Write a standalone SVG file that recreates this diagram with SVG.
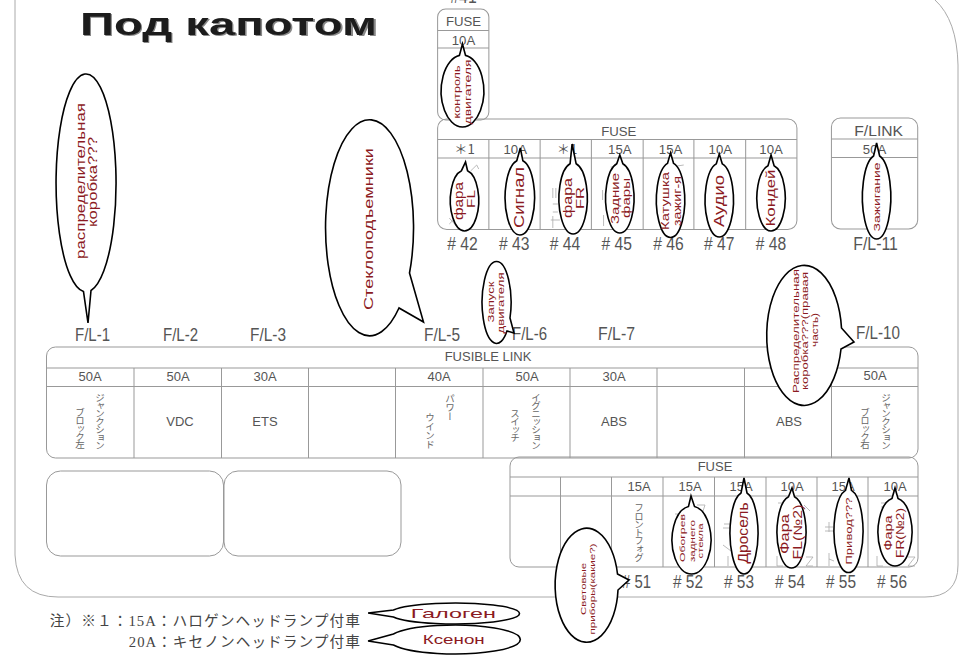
<svg xmlns="http://www.w3.org/2000/svg" width="960" height="667" viewBox="0 0 960 667">
<defs><filter id="soft" x="-5%" y="-20%" width="110%" height="140%"><feGaussianBlur stdDeviation="0.7"/></filter></defs>
<style>
text{font-family:"Liberation Sans",Arial,"Noto Sans CJK JP",sans-serif;fill:#555}
.box{fill:none;stroke:#999;stroke-width:1}
.ln{stroke:#999;stroke-width:1;fill:none}
.frag{stroke:#aaa;stroke-width:.8;fill:none}
.t{font-size:13px;text-anchor:middle}
.big{font-size:19px;fill:#555}
.j{font-family:"Noto Sans CJK JP",sans-serif;font-size:9.5px;letter-spacing:-1.6px;writing-mode:vertical-rl;fill:#666}
.n{font-family:"Liberation Serif","Noto Sans CJK JP",serif;font-size:14.5px;fill:#444}
.b{fill:#fff;stroke:#000;stroke-width:1.6;stroke-linejoin:miter}
.r{fill:#8b1a22;text-anchor:middle}
.top{transform:translate(430px,0) scale(1.015,1) translate(-430px,0)}
.low{transform:scale(1.014,1)}
</style>
<rect width="960" height="667" fill="#fff"/>
<path id="frame" d="M15 0V555Q17 597 58 597H925Q958 597 958 565V65Q957 20 935 0" fill="none" stroke="#aaa" stroke-width="1"/>
<g id="title" filter="url(#soft)">
<text x="81" y="35.5" font-size="30.5" font-weight="bold" textLength="298" lengthAdjust="spacingAndGlyphs" style="fill:#888">Под капотом</text>
<text x="80" y="35" font-size="30.5" font-weight="bold" textLength="297" lengthAdjust="spacingAndGlyphs" style="fill:#1c1c1c">Под капотом</text>
</g>

<g id="fuse-41" class="top">
<rect class="box" x="437.5" y="9" width="50.5" height="111" rx="8"/>
<path class="ln" d="M437.5 30.5H488M437.5 48H488"/>
<text class="t" x="463" y="26">FUSE</text>
<text class="t" x="463" y="45">10A</text>
<text class="big" x="450" y="3" textLength="26" lengthAdjust="spacingAndGlyphs">#41</text>
</g>
<g id="fuse-row-top" class="top">
<rect class="box" x="437.5" y="119" width="354" height="110.5" rx="9"/>
<path class="ln" d="M437.5 139.5H791.5M437.5 158H791.5M488 139.5V229.5M538.5 139.5V229.5M589 139.5V229.5M640 139.5V229.5M690 139.5V229.5M741 139.5V229.5"/>
<text class="t" x="616" y="136">FUSE</text>
<text class="t" x="464" y="154" style="font-family:'Noto Sans CJK JP','Liberation Sans',sans-serif">＊1</text>
<text class="t" x="514" y="154">10A</text>
<text class="t" x="565" y="154" style="font-family:'Noto Sans CJK JP','Liberation Sans',sans-serif">＊1</text>
<text class="t" x="617" y="154">15A</text>
<text class="t" x="667" y="154">15A</text>
<text class="t" x="716" y="154">10A</text>
<text class="t" x="766" y="154">10A</text>
<path class="frag" d="M470 171L476 165L478 169M449 224L455 218M449 218L456 226M551 188V198M554 188V198M551 204H556M551 212H556M549 220H558M551 216V228M600 190V200M601 215V226M608 167H616M660 168L680 165"/>
<text class="big" x="447" y="250.5" textLength="30" lengthAdjust="spacingAndGlyphs"># 42</text>
<text class="big" x="498" y="250.5" textLength="30" lengthAdjust="spacingAndGlyphs"># 43</text>
<text class="big" x="548" y="250.5" textLength="30" lengthAdjust="spacingAndGlyphs"># 44</text>
<text class="big" x="599" y="250.5" textLength="30" lengthAdjust="spacingAndGlyphs"># 45</text>
<text class="big" x="650" y="250.5" textLength="30" lengthAdjust="spacingAndGlyphs"># 46</text>
<text class="big" x="700" y="250.5" textLength="30" lengthAdjust="spacingAndGlyphs"># 47</text>
<text class="big" x="751" y="250.5" textLength="30" lengthAdjust="spacingAndGlyphs"># 48</text>
</g>
<g id="flink-11" class="top">
<rect class="box" x="825.5" y="118" width="85" height="111" rx="9"/>
<path class="ln" d="M825.5 139H910.5M825.5 157.5H910.5"/>
<text x="848" y="136" font-size="14" textLength="48" lengthAdjust="spacingAndGlyphs">F/LINK</text>
<text class="t" x="868" y="154">50A</text>
<text class="big" x="847" y="250" textLength="44" lengthAdjust="spacingAndGlyphs">F/L-11</text>
</g>
<g id="fusible-link">
<rect class="box" x="46.5" y="347" width="871.5" height="111" rx="9"/>
<path class="ln" d="M46.5 368H918M46.5 386.5H918M134 368V458M221.5 368V458M308.5 368V458M395.5 368V458M483 368V458M570 368V458M657 368V458M744.5 368V458M831.5 368V458"/>
<text class="t" x="488" y="361">FUSIBLE LINK</text>
<text class="t" x="90" y="381">50A</text>
<text class="t" x="178" y="381">50A</text>
<text class="t" x="265" y="381">30A</text>
<text class="t" x="439" y="381">40A</text>
<text class="t" x="527" y="381">50A</text>
<text class="t" x="614" y="381">30A</text>
<text class="t" x="875" y="380">50A</text>
<text class="t" x="180" y="426">VDC</text>
<text class="t" x="265" y="426">ETS</text>
<text class="t" x="614" y="426">ABS</text>
<text class="t" x="789" y="426">ABS</text>
<text class="j" x="100" y="393">ジャンクション</text>
<text class="j" x="80" y="408">ブロック左</text>
<text class="j" x="450" y="394" style="letter-spacing:-.5px">パワー</text>
<text class="j" x="430" y="413" style="letter-spacing:-.5px">ウインド</text>
<text class="j" x="536" y="393">イグニッション</text>
<text class="j" x="515" y="409">スイッチ</text>
<text class="j" x="886" y="393">ジャンクション</text>
<text class="j" x="865" y="408">ブロック右</text>
<text class="big" x="75" y="341" textLength="35" lengthAdjust="spacingAndGlyphs">F/L-1</text>
<text class="big" x="163" y="341" textLength="35" lengthAdjust="spacingAndGlyphs">F/L-2</text>
<text class="big" x="250" y="341" textLength="36" lengthAdjust="spacingAndGlyphs">F/L-3</text>
<text class="big" x="424" y="341" textLength="36" lengthAdjust="spacingAndGlyphs">F/L-5</text>
<text class="big" x="512" y="340" textLength="35" lengthAdjust="spacingAndGlyphs">F/L-6</text>
<text class="big" x="598" y="340" textLength="37" lengthAdjust="spacingAndGlyphs">F/L-7</text>
<text class="big" x="856" y="339" textLength="44" lengthAdjust="spacingAndGlyphs">F/L-10</text>
</g>
<g id="blank-left"><rect class="box" x="46.5" y="471" width="177" height="85" rx="14"/></g>
<g id="blank-right"><rect class="box" x="224" y="471" width="177" height="85" rx="14"/></g>
<g id="fuse-row-bottom">
<rect class="box" x="510" y="457" width="408" height="110" rx="9"/>
<path class="ln" d="M510 477H918M510 496H918M560.5 477V567M611.5 477V567M663 477V567M714.5 477V567M766 477V567M817 477V567M868 477V567"/>
<text class="t" x="715" y="471">FUSE</text>
<text class="t" x="639" y="491">15A</text>
<text class="t" x="690" y="491">15A</text>
<text class="t" x="741" y="491">15A</text>
<text class="t" x="792" y="491">10A</text>
<text class="t" x="843" y="491">15A</text>
<text class="t" x="895" y="491">10A</text>
<path class="frag" d="M697 505H705L703 511M675 514H682M724 524H730M723 528H731M723 545L731 551M728 556V566M778 503H785M780 507H786M804 505L810 511M777 556V566H783M806 557H813L806 566H813M829 522V532M825 527H833M825 531H833M829 553V566M829 559L834 561M881 503H888M881 507H888M877 556V566H883M908 557H915L908 566H915"/>
<text class="j" x="639" y="503" style="letter-spacing:-1.3px">フロントフォグ</text>
<text class="big" x="622" y="588" textLength="29" lengthAdjust="spacingAndGlyphs"># 51</text>
<text class="big" x="673" y="588" textLength="30" lengthAdjust="spacingAndGlyphs"># 52</text>
<text class="big" x="724" y="588" textLength="30" lengthAdjust="spacingAndGlyphs"># 53</text>
<text class="big" x="775" y="588" textLength="30" lengthAdjust="spacingAndGlyphs"># 54</text>
<text class="big" x="826" y="588" textLength="30" lengthAdjust="spacingAndGlyphs"># 55</text>
<text class="big" x="877" y="588" textLength="30" lengthAdjust="spacingAndGlyphs"># 56</text>
</g>
<g id="note" class="low">
<text class="n" x="49" y="626" textLength="306" lengthAdjust="spacing">注）※１：15A：ハロゲンヘッドランプ付車</text>
<text class="n" x="127" y="647" textLength="228" lengthAdjust="spacing">20A：キセノンヘッドランプ付車</text>
</g>

<g id="connectors"></g>

<g id="b-box-left">
<path class="b" d="M91 290.5L88 323L83.5 291.6A30 109 0 1 1 91 290.5Z"/>
<text class="r" font-size="13" transform="translate(85 181) rotate(-90)" textLength="156" lengthAdjust="spacingAndGlyphs">распределительная</text>
<text class="r" font-size="13" transform="translate(97 182) rotate(-90)" textLength="90" lengthAdjust="spacingAndGlyphs">коробка???</text>
</g>
<g id="b-windows">
<path class="b" d="M409.5 273L423.5 322L399 308A44 108 0 1 1 409.5 273Z"/>
<text class="r" font-size="13" transform="translate(373 229) rotate(-90)" textLength="162" lengthAdjust="spacingAndGlyphs">Стеклоподъемники</text>
</g>
<g id="b-engine-control" class="top">
<path class="b" d="M459 55.4L462 44L465 55.4A21 36 0 1 1 459 55.4Z"/>
<text class="r" font-size="9" transform="translate(460 92) rotate(-90)" textLength="53" lengthAdjust="spacingAndGlyphs">контроль</text>
<text class="r" font-size="9" transform="translate(470 92) rotate(-90)" textLength="65" lengthAdjust="spacingAndGlyphs">двигателя</text>
</g>
<g id="b-42" class="top">
<path class="b" d="M461 170.7L465 162L467 170.7A14 30.5 0 1 1 461 170.7Z"/>
<text class="r" font-size="12.5" transform="translate(463 201) rotate(-90)" textLength="38" lengthAdjust="spacingAndGlyphs">фара</text>
<text class="r" font-size="11" transform="translate(474 199) rotate(-90)" textLength="18" lengthAdjust="spacingAndGlyphs">FL</text>
</g>
<g id="b-43" class="top">
<path class="b" d="M515.5 160.8L519 148L521.5 160.8A14.5 37.5 0 1 1 515.5 160.8Z"/>
<text class="r" font-size="15" transform="translate(523 197.5) rotate(-90)" textLength="61" lengthAdjust="spacingAndGlyphs">Сигнал</text>
</g>
<g id="b-44" class="top">
<path class="b" d="M568 163.8L570 144L574 163.8A14 35.5 0 1 1 568 163.8Z"/>
<text class="r" font-size="12.5" transform="translate(570 198) rotate(-90)" textLength="40" lengthAdjust="spacingAndGlyphs">фара</text>
<text class="r" font-size="11" transform="translate(582 198) rotate(-90)" textLength="22" lengthAdjust="spacingAndGlyphs">FR</text>
</g>
<g id="b-45" class="top">
<path class="b" d="M614 163.8L617 155L620 163.8A14 35 0 1 1 614 163.8Z"/>
<text class="r" font-size="11" transform="translate(616 198.5) rotate(-90)" textLength="51" lengthAdjust="spacingAndGlyphs">Задние</text>
<text class="r" font-size="11" transform="translate(627 198) rotate(-90)" textLength="40" lengthAdjust="spacingAndGlyphs">фары</text>
</g>
<g id="b-46" class="top">
<path class="b" d="M664 163.4L667 153L670 163.4A14 37.5 0 1 1 664 163.4Z"/>
<text class="r" font-size="11" transform="translate(665 201) rotate(-90)" textLength="58" lengthAdjust="spacingAndGlyphs">Катушка</text>
<text class="r" font-size="11" transform="translate(677 201) rotate(-90)" textLength="50" lengthAdjust="spacingAndGlyphs">зажиг-я</text>
</g>
<g id="b-47" class="top">
<path class="b" d="M712 163.9L715 154L718 163.9A14 37 0 1 1 712 163.9Z"/>
<text class="r" font-size="15" transform="translate(720 201) rotate(-90)" textLength="52" lengthAdjust="spacingAndGlyphs">Аудио</text>
</g>
<g id="b-48" class="top">
<path class="b" d="M763 165.8L766 155L769 165.8A14 33 0 1 1 763 165.8Z"/>
<text class="r" font-size="12.5" transform="translate(770 198) rotate(-90)" textLength="57" lengthAdjust="spacingAndGlyphs">Кондей</text>
</g>
<g id="b-11" class="top">
<path class="b" d="M867 156L870 143L873 156A14 42 0 1 1 867 156Z"/>
<text class="r" font-size="9.5" transform="translate(873 197) rotate(-90)" textLength="69" lengthAdjust="spacingAndGlyphs">Зажигание</text>
</g>
<g id="b-start">
<path class="b" d="M510 318L514 333L507 331A14.5 41 0 1 1 510 318Z"/>
<text class="r" font-size="8.5" transform="translate(494 302) rotate(-90)" textLength="41" lengthAdjust="spacingAndGlyphs">Запуск</text>
<text class="r" font-size="8.5" transform="translate(504 303) rotate(-90)" textLength="61" lengthAdjust="spacingAndGlyphs">двигателя</text>
</g>
<g id="b-box-right">
<path class="b" d="M841.5 328L854 342L841 349A37.5 70 0 1 1 841.5 328Z"/>
<text class="r" font-size="9.5" transform="translate(799 331) rotate(-90)" textLength="124" lengthAdjust="spacingAndGlyphs">Распределительная</text>
<text class="r" font-size="9.5" transform="translate(808 331) rotate(-90)" textLength="118" lengthAdjust="spacingAndGlyphs">коробка???(правая</text>
<text class="r" font-size="9.5" transform="translate(818 330) rotate(-90)" textLength="34" lengthAdjust="spacingAndGlyphs">часть)</text>
</g>
<g id="b-51">
<path class="b" d="M617.5 574L629 580L618 590A31.5 57 0 1 1 617.5 574Z"/>
<text class="r" font-size="8" transform="translate(586 589) rotate(-90)" textLength="52" lengthAdjust="spacingAndGlyphs">Световые</text>
<text class="r" font-size="8" transform="translate(595 589) rotate(-90)" textLength="91" lengthAdjust="spacingAndGlyphs">приборы(какие?)</text>
</g>
<g id="b-52">
<path class="b" d="M688.5 506.4L691 496L694.5 506.4A19.5 34 0 1 1 688.5 506.4Z"/>
<text class="r" font-size="8" transform="translate(685 538) rotate(-90)" textLength="48" lengthAdjust="spacingAndGlyphs">Обогрев</text>
<text class="r" font-size="8" transform="translate(695 541) rotate(-90)" textLength="42" lengthAdjust="spacingAndGlyphs">заднего</text>
<text class="r" font-size="8" transform="translate(703 541) rotate(-90)" textLength="35" lengthAdjust="spacingAndGlyphs">стекла</text>
</g>
<g id="b-53">
<path class="b" d="M741 493L744 478L747 493A14 41 0 1 1 741 493Z"/>
<text class="r" font-size="14" transform="translate(748 533) rotate(-90)" textLength="61" lengthAdjust="spacingAndGlyphs">Дросель</text>
</g>
<g id="b-54">
<path class="b" d="M788.5 496.8L792 488L794.5 496.8A14.5 36 0 1 1 788.5 496.8Z"/>
<text class="r" font-size="12" transform="translate(789 534) rotate(-90)" textLength="40" lengthAdjust="spacingAndGlyphs">Фара</text>
<text class="r" font-size="12" transform="translate(802 532) rotate(-90)" textLength="55" lengthAdjust="spacingAndGlyphs">FL(№2)</text>
</g>
<g id="b-55">
<path class="b" d="M845.5 490.4L849 478L851.5 490.4A14.5 41.5 0 1 1 845.5 490.4Z"/>
<text class="r" font-size="9.5" transform="translate(852 531) rotate(-90)" textLength="67" lengthAdjust="spacingAndGlyphs">Привод???</text>
</g>
<g id="b-56">
<path class="b" d="M892 498.5L895 488L898 498.5A17 34 0 1 1 892 498.5Z"/>
<text class="r" font-size="11.5" transform="translate(892 533) rotate(-90)" textLength="35" lengthAdjust="spacingAndGlyphs">Фара</text>
<text class="r" font-size="11.5" transform="translate(904 533) rotate(-90)" textLength="50" lengthAdjust="spacingAndGlyphs">FR(№2)</text>
</g>
<g id="b-halogen" class="low">
<path class="b" d="M388 617L363 613L388 610A64 10.5 0 1 1 388 617Z"/>
<text class="r" font-size="13" x="447" y="618" textLength="84" lengthAdjust="spacingAndGlyphs">Галоген</text>
</g>
<g id="b-xenon" class="low">
<path class="b" d="M388 645L363 641L388 634A65 14.5 0 1 1 388 645Z"/>
<text class="r" font-size="12" x="447.5" y="644" textLength="61" lengthAdjust="spacingAndGlyphs">Ксенон</text>
</g>
</svg>
